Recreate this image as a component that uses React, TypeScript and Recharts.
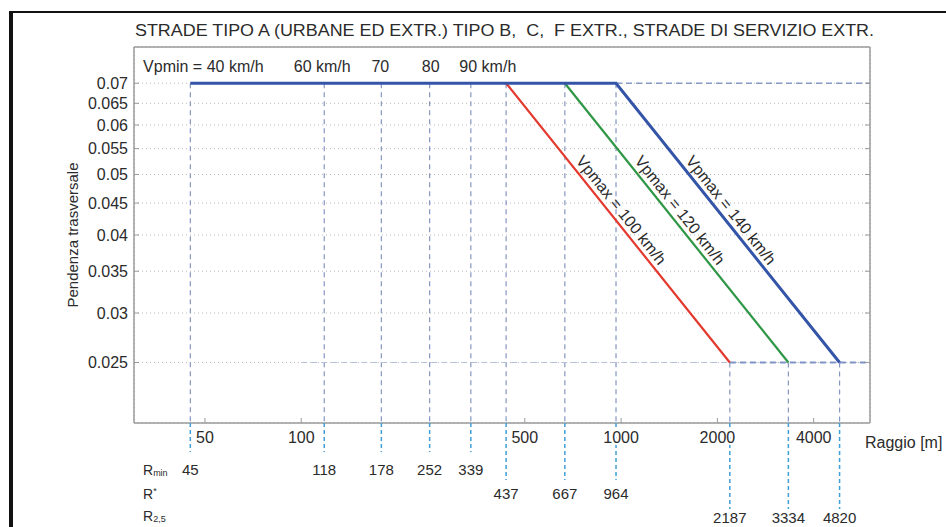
import React from "react";
import { LineChart, Line, XAxis, YAxis, CartesianGrid, ReferenceLine, ReferenceDot } from "recharts";

const TITLE = "STRADE TIPO A (URBANE ED EXTR.) TIPO B,  C,  F EXTR., STRADE DI SERVIZIO EXTR.";
const X_LABEL = "Raggio [m]";
const Y_LABEL = "Pendenza trasversale";

const X_DOMAIN = [30, 6000];
const Y_DOMAIN = [0.02, 0.08];
const X_TICKS = [50, 100, 500, 1000, 2000, 4000];
const Y_TICKS = [0.025, 0.03, 0.035, 0.04, 0.045, 0.05, 0.055, 0.06, 0.065, 0.07];

// raggi caratteristici
const R_MIN = [45, 118, 178, 252, 339];
const VP_MIN_LABELS = ["Vpmin = 40 km/h", "60 km/h", "70", "80", "90 km/h"];
const R_STAR = [437, 667, 964];
const R_25 = [2187, 3334, 4820];
const VP_MAX = [100, 120, 140];
const Q_MAX = 0.07;
const Q_MIN = 0.025;

const FONT = "'Liberation Sans', Arial, Helvetica, sans-serif";
const TEXT = "#2b2b2b";
const AXIS = "#9a9a9a";
const SERIES_COLORS = ["#e3392e", "#2f9645", "#3454a8"];
const TOP_LABEL_DX = [13, -2, -1, 1, 17];

// the 140 km/h curve also carries the flat part from Rmin(40 km/h)
const series = VP_MAX.map((v, i) => ({
  v,
  data: [
    ...(i === VP_MAX.length - 1 ? [{ r: R_MIN[0], q: Q_MAX }] : []),
    { r: R_STAR[i], q: Q_MAX },
    { r: R_25[i], q: Q_MIN },
  ],
}));

function LeftTick({ x, y, payload }: any) {
  return (
    <g>
      <line x1={x} x2={x + 5} y1={y} y2={y} stroke={AXIS} />
      <text x={x - 6} y={y} dy="0.35em" textAnchor="end" fontSize={16} fill={TEXT} fontFamily={FONT}>
        {payload.value}
      </text>
    </g>
  );
}

function RightTick({ x, y }: any) {
  return <line x1={x - 5} x2={x} y1={y} y2={y} stroke={AXIS} />;
}

function TopTick({ x, y }: any) {
  return <line x1={x} x2={x} y1={y} y2={y + 5} stroke={AXIS} />;
}

function BottomTick({ x, y, payload }: any) {
  const v = payload.value;
  if (X_TICKS.includes(v)) {
    return (
      <g>
        <line x1={x} x2={x} y1={y - 5} y2={y} stroke={AXIS} />
        <text
          x={x}
          y={y + 20}
          textAnchor="middle"
          fontSize={16}
          fill={TEXT}
          fontFamily={FONT}
          stroke="#fff"
          strokeWidth={4}
          paintOrder="stroke"
        >
          {v}
        </text>
      </g>
    );
  }
  let lineEnd = 29;
  let rowY = 52;
  if (R_STAR.includes(v)) {
    lineEnd = 57;
    rowY = 76;
  } else if (R_25.includes(v)) {
    lineEnd = 86;
    rowY = 100;
  }
  return (
    <g>
      <line x1={x} x2={x} y1={y} y2={y + lineEnd} stroke="#3f9fd8" strokeWidth={1.5} strokeDasharray="4 3" />
      <text x={x} y={y + rowY} textAnchor="middle" fontSize={15} fill={TEXT} fontFamily={FONT}>
        {v}
      </text>
    </g>
  );
}

function BottomAxisLabel({ viewBox }: any) {
  const { x, y, width } = viewBox;
  const lx = x + 9;
  return (
    <g fontFamily={FONT} fill={TEXT}>
      <text x={x + width - 5} y={y + 25} fontSize={16}>
        {X_LABEL}
      </text>
      <text x={lx} y={y + 52} fontSize={14}>
        R<tspan fontSize={9} dy={1}>min</tspan>
      </text>
      <text x={lx} y={y + 76} fontSize={14}>
        R<tspan fontSize={9} dy={-5}>*</tspan>
      </text>
      <text x={lx} y={y + 98} fontSize={14}>
        R<tspan fontSize={9} dy={1}>2,5</tspan>
      </text>
    </g>
  );
}

function TitleLabel({ viewBox }: any) {
  const { x, width } = viewBox;
  return (
    <text
      x={x + 1}
      y={36}
      textLength={width + 3}
      lengthAdjust="spacingAndGlyphs"
      fontSize={16}
      fill={TEXT}
      fontFamily={FONT}
      style={{ whiteSpace: "pre" }}
    >
      {TITLE}
    </text>
  );
}

function YLabel({ viewBox }: any) {
  const { y, height } = viewBox;
  const cx = 73;
  const cy = y + height / 2;
  return (
    <text
      x={cx}
      y={cy}
      dy="0.35em"
      transform={`rotate(-90 ${cx} ${cy})`}
      textAnchor="middle"
      fontSize={15}
      fill={TEXT}
      fontFamily={FONT}
    >
      {Y_LABEL}
    </text>
  );
}

function SpeedLabel({ viewBox, text, dx }: any) {
  return (
    <text x={viewBox.x + dx} y={viewBox.y - 11} textAnchor="middle" fontSize={16} fill={TEXT} fontFamily={FONT}>
      {text}
    </text>
  );
}

function SlopeLabel({ viewBox, text }: any) {
  const cx = viewBox.x + viewBox.width / 2;
  const cy = viewBox.y + viewBox.height / 2;
  return (
    <text
      transform={`translate(${cx},${cy}) rotate(51.5)`}
      x={-8}
      y={-5}
      textAnchor="middle"
      fontSize={16}
      fill={TEXT}
      fontFamily={FONT}
    >
      {text}
    </text>
  );
}

export default function App() {
  return (
    <div style={{ position: "absolute", left: 0, top: 0, width: 946, height: 527, background: "#fff", overflow: "hidden" }}>
      <LineChart width={946} height={527} margin={{ top: 0, right: 0, bottom: 0, left: 0 }}>
        <CartesianGrid xAxisId="top" yAxisId="q" stroke="#b9b9b9" strokeDasharray="1 3" />
        <XAxis
          xAxisId="r"
          dataKey="r"
          type="number"
          scale="log"
          domain={X_DOMAIN}
          allowDataOverflow
          ticks={[...R_MIN, ...R_STAR, ...R_25, ...X_TICKS]}
          interval={0}
          height={104}
          tickSize={0}
          tickMargin={0}
          tickLine={false}
          axisLine={{ stroke: AXIS, strokeWidth: 1.5 }}
          tick={BottomTick}
          label={(p: any) => <BottomAxisLabel {...p} />}
        />
        <XAxis
          xAxisId="top"
          orientation="top"
          type="number"
          scale="log"
          domain={X_DOMAIN}
          allowDataOverflow
          ticks={X_TICKS}
          interval={0}
          height={47}
          tickSize={0}
          tickMargin={0}
          tickLine={false}
          axisLine={{ stroke: AXIS, strokeWidth: 1.5 }}
          tick={TopTick}
          label={(p: any) => <TitleLabel {...p} />}
        />
        <YAxis
          yAxisId="q"
          type="number"
          scale="log"
          domain={Y_DOMAIN}
          allowDataOverflow
          ticks={Y_TICKS}
          interval={0}
          width={134}
          tickSize={0}
          tickMargin={0}
          tickLine={false}
          axisLine={{ stroke: AXIS, strokeWidth: 1.5 }}
          tick={LeftTick}
          label={(p: any) => <YLabel {...p} />}
        />
        <YAxis
          yAxisId="qr"
          orientation="right"
          type="number"
          scale="log"
          domain={Y_DOMAIN}
          allowDataOverflow
          ticks={Y_TICKS}
          interval={0}
          width={76}
          tickSize={0}
          tickMargin={0}
          tickLine={false}
          axisLine={{ stroke: AXIS, strokeWidth: 1.5 }}
          tick={RightTick}
        />

        {/* verticali dai raggi caratteristici */}
        {R_MIN.map((r, i) => (
          <ReferenceLine
            key={`rmin-${r}`}
            xAxisId="r"
            yAxisId="q"
            segment={[{ x: r, y: Q_MAX }, { x: r, y: Y_DOMAIN[0] }]}
            stroke="#8696c0"
            strokeWidth={1.2}
            strokeDasharray="5 4"
            label={(p: any) => <SpeedLabel {...p} text={VP_MIN_LABELS[i]} dx={TOP_LABEL_DX[i]} />}
          />
        ))}
        {R_STAR.map((r) => (
          <ReferenceLine
            key={`rstar-${r}`}
            xAxisId="r"
            yAxisId="q"
            segment={[{ x: r, y: Q_MAX }, { x: r, y: Y_DOMAIN[0] }]}
            stroke="#8696c0"
            strokeWidth={1.2}
            strokeDasharray="5 4"
          />
        ))}
        {R_25.map((r) => (
          <ReferenceLine
            key={`r25-${r}`}
            xAxisId="r"
            yAxisId="q"
            segment={[{ x: r, y: Q_MIN }, { x: r, y: Y_DOMAIN[0] }]}
            stroke="#8696c0"
            strokeWidth={1.2}
            strokeDasharray="5 4"
          />
        ))}
        <ReferenceLine
          xAxisId="r"
          yAxisId="q"
          segment={[{ x: X_TICKS[1], y: Q_MIN }, { x: X_DOMAIN[1], y: Q_MIN }]}
          stroke="#b4bfd8"
          strokeWidth={1.2}
          strokeDasharray="6 4"
        />
        <ReferenceLine
          xAxisId="r"
          yAxisId="q"
          segment={[{ x: R_25[0], y: Q_MIN }, { x: X_DOMAIN[1], y: Q_MIN }]}
          stroke="#8093c6"
          strokeWidth={1.8}
          strokeDasharray="6 4"
        />
        <ReferenceLine
          xAxisId="r"
          yAxisId="q"
          segment={[{ x: R_STAR[2], y: Q_MAX }, { x: X_DOMAIN[1], y: Q_MAX }]}
          stroke="#8a9ac6"
          strokeWidth={1.5}
          strokeDasharray="6 4"
        />

        {series.map((s, i) => (
          <Line
            key={s.v}
            xAxisId="r"
            yAxisId="q"
            data={s.data}
            dataKey="q"
            stroke={SERIES_COLORS[i]}
            strokeWidth={i === 2 ? 3 : 2.2}
            dot={false}
            activeDot={false}
            isAnimationActive={false}
          />
        ))}

        {series.map((s, i) => (
          <ReferenceDot
            key={`lbl-${s.v}`}
            xAxisId="r"
            yAxisId="q"
            x={Math.sqrt(R_STAR[i] * R_25[i])}
            y={Math.sqrt(Q_MAX * Q_MIN)}
            r={0}
            fill="none"
            stroke="none"
            label={(p: any) => <SlopeLabel {...p} text={`Vpmax = ${s.v} km/h`} />}
          />
        ))}
      </LineChart>
      <div
        style={{
          position: "absolute",
          left: 9,
          top: 11,
          width: 960,
          height: 540,
          borderLeft: "4px solid #111",
          borderTop: "2px solid #111",
          pointerEvents: "none",
        }}
      />
    </div>
  );
}
